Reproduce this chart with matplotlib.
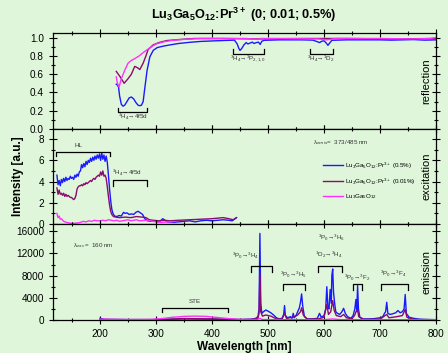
import numpy as np
import matplotlib.pyplot as plt
from matplotlib.ticker import MultipleLocator

plt.rcParams['font.family'] = ['Liberation Sans', 'DejaVu Sans']
plt.rcParams['mathtext.fontset'] = 'custom'
plt.rcParams['mathtext.rm'] = 'Liberation Sans'
plt.rcParams['mathtext.bf'] = 'Liberation Sans:bold'

BG = '#e0f6db'
C_BLUE = '#1a1aff'
C_PURP = '#8a0a6e'
C_MAG = '#ff30ff'

# --- reflection (wavelength nm, reflectance)
refl_blue_wl = [229, 231, 233, 235, 238, 241, 244, 248, 252, 256, 260, 264, 268, 271, 274, 277, 280, 284, 289,
                295, 302, 312, 325, 340, 360, 380, 400, 420, 440, 445, 448, 450, 453, 457, 461, 464, 468, 472,
                475, 479, 483, 486, 489, 493, 520, 560, 580, 588, 592, 596, 600, 604, 607, 610, 614, 640, 700,
                720, 740, 760, 780, 800]
refl_blue = [0.49, 0.48, 0.46, 0.36, 0.27, 0.25, 0.26, 0.30, 0.34, 0.35, 0.33, 0.29, 0.26, 0.255, 0.26, 0.30,
             0.45, 0.64, 0.79, 0.86, 0.89, 0.905, 0.92, 0.935, 0.948, 0.958, 0.963, 0.968, 0.972, 0.93, 0.88,
             0.86, 0.88, 0.92, 0.945, 0.93, 0.94, 0.95, 0.935, 0.945, 0.95, 0.925, 0.96, 0.97, 0.975, 0.975,
             0.972, 0.955, 0.945, 0.96, 0.965, 0.94, 0.915, 0.94, 0.97, 0.975, 0.975, 0.972, 0.975, 0.978,
             0.972, 0.975]
refl_purp_wl = [229, 236, 243, 250, 256, 262, 267, 271, 277, 282, 286, 295, 305, 319, 340, 368, 420, 480, 560,
                640, 720, 800]
refl_purp = [0.63, 0.57, 0.50, 0.55, 0.60, 0.685, 0.67, 0.65, 0.72, 0.80, 0.87, 0.92, 0.945, 0.967, 0.978,
             0.99, 0.99, 0.985, 0.99, 0.99, 0.985, 0.99]
refl_mag_wl = [229, 231, 234, 238, 244, 250, 256, 262, 270, 278, 285, 292, 300, 315, 330, 350, 380, 420, 460,
               482, 486, 520, 590, 605, 620, 700, 760, 790, 800]
refl_mag = [0.57, 0.50, 0.46, 0.55, 0.64, 0.72, 0.75, 0.77, 0.80, 0.84, 0.87, 0.90, 0.93, 0.955, 0.97, 0.98,
            0.99, 0.99, 0.99, 0.98, 0.99, 0.99, 0.985, 0.975, 0.99, 0.99, 0.985, 0.99, 1.0]

# --- excitation (lambda_em = 373/485 nm)
exc_blue_wl = [123, 125, 127, 129, 131, 133, 135, 137, 139, 141, 143, 145, 147, 149, 151, 153, 155, 157, 159,
               161, 163, 165, 167, 169, 171, 173, 175, 177, 179, 181, 183, 185, 187, 189, 191, 193, 195, 197,
               199, 201, 203, 205, 207, 209, 211, 213, 215, 217, 219, 221, 223, 226, 230, 234, 238, 242, 245,
               248, 252, 256, 260, 264, 268, 272, 276, 280, 285, 290, 296, 302, 308, 312, 316, 320, 330, 340,
               350, 360, 370, 380, 390, 400, 410, 420, 430, 436, 440, 444]
exc_blue = [4.6, 3.7, 4.1, 3.6, 4.2, 3.9, 4.3, 4.0, 4.4, 4.1, 4.3, 4.2, 4.5, 4.3, 4.4, 4.2, 4.6, 4.4, 4.7, 4.5,
            4.9, 5.0, 5.6, 5.3, 5.7, 5.4, 5.9, 5.6, 6.0, 5.8, 6.2, 5.9, 6.3, 6.0, 6.4, 6.1, 6.5, 6.2, 6.6, 6.0,
            6.7, 6.1, 6.5, 5.9, 6.4, 5.8, 4.6, 3.3, 2.2, 1.4, 1.0, 0.75, 0.7, 0.8, 0.75, 1.1, 1.0, 1.05, 0.9,
            0.95, 0.9, 1.1, 1.2, 1.05, 0.9, 0.5, 0.3, 0.25, 0.3, 0.2, 0.3, 0.5, 0.35, 0.2, 0.15, 0.2, 0.25,
            0.3, 0.2, 0.3, 0.35, 0.3, 0.35, 0.4, 0.35, 0.3, 0.45, 0.6]
exc_purp_wl = [123, 125, 127, 129, 131, 133, 135, 137, 139, 141, 143, 145, 147, 149, 151, 153, 155, 157, 159,
               161, 163, 165, 167, 169, 171, 173, 175, 177, 179, 181, 183, 185, 187, 189, 191, 193, 195, 197,
               199, 201, 203, 205, 207, 209, 211, 213, 215, 217, 219, 221, 224, 228, 235, 245, 255, 265, 275,
               282, 288, 295, 305, 315, 325, 340, 360, 380, 400, 410, 420, 430, 438, 442]
exc_purp = [3.4, 2.8, 3.2, 2.8, 2.9, 2.7, 2.9, 2.6, 2.8, 2.6, 2.7, 2.6, 2.5, 2.5, 2.4, 2.3, 2.4, 2.7, 3.3, 3.5,
            3.6, 3.6, 3.7, 3.6, 3.8, 3.7, 3.9, 3.8, 3.9, 4.0, 4.1, 4.0, 4.2, 4.3, 4.2, 4.4, 4.5, 4.6, 4.5, 4.9,
            4.6, 5.0, 4.5, 4.6, 4.3, 3.5, 2.6, 1.8, 1.2, 0.9, 0.7, 0.65, 0.6, 0.65, 0.6, 0.7, 0.65, 0.6, 0.4,
            0.35, 0.3, 0.35, 0.3, 0.35, 0.4, 0.45, 0.5, 0.55, 0.6, 0.5, 0.4, 0.55]
exc_mag_wl = [123, 125, 127, 129, 131, 134, 137, 140, 145, 150, 155, 160, 165, 170, 175, 180, 185, 190, 195,
              200, 205, 210, 215, 220, 225, 230, 235, 240, 250, 255, 260, 265, 270, 280, 290, 300, 310, 320, 330]
exc_mag = [1.0, 0.6, 0.75, 0.45, 0.5, 0.3, 0.2, 0.15, 0.1, 0.05, 0.08, 0.1, 0.15, 0.25, 0.2, 0.3, 0.25, 0.35,
           0.3, 0.3, 0.35, 0.3, 0.4, 0.35, 0.3, 0.35, 0.25, 0.3, 0.4, 0.3, 0.35, 0.4, 0.3, 0.35, 0.3, 0.2, 0.15,
           0.2, 0.2]

# --- emission (lambda_exc = 160 nm)
em_blue_wl = [200, 205, 210, 250, 300, 350, 400, 450, 470, 478, 482, 484, 485.5, 487, 489, 492, 496, 500, 505,
              510, 515, 520, 525, 528, 529.5, 531, 535, 540, 543, 545, 547, 550, 553, 556, 558, 560, 562, 565,
              570, 580, 588, 592, 595, 600, 603, 605, 607, 609, 611, 613, 614, 615.5, 617, 619, 621, 624, 628,
              632, 635, 638, 642, 648, 652, 655, 657, 658.5, 660, 661.5, 664, 670, 680, 690, 700, 705, 708, 710,
              712, 714, 718, 722, 728, 732, 736, 740, 743, 745, 747, 752, 760, 770, 780, 800]
em_blue = [300, 150, 100, 80, 60, 200, 150, 80, 150, 300, 600, 2000, 15600, 3000, 1200, 1500, 1800, 1600, 1300,
           900, 400, 200, 300, 1000, 2600, 800, 400, 600, 300, 1200, 400, 800, 1500, 2200, 3200, 4700, 2500, 600,
           200, 200, 300, 1200, 500, 800, 2000, 6000, 2200, 2000, 5500, 3000, 8000, 9200, 5000, 3000, 1500,
           1200, 1000, 1500, 2100, 1200, 600, 300, 800, 2000, 3700, 1500, 6200, 2000, 500, 200, 200, 250, 400,
           600, 1200, 1500, 3200, 1200, 1000, 1100, 1300, 1700, 1300, 1500, 2000, 4600, 1200, 500, 300, 150,
           100, 60]
em_purp_wl = [200, 250, 300, 350, 400, 450, 470, 482, 484, 485.5, 487, 490, 496, 505, 515, 525, 529.5, 533,
              545, 553, 558, 560, 563, 570, 590, 600, 605, 608, 612, 615.5, 618, 622, 630, 635, 640, 650, 655,
              657, 660, 662, 670, 700, 712, 716, 730, 740, 745, 748, 760, 800]
em_purp = [100, 60, 80, 250, 200, 80, 100, 300, 1200, 8300, 1500, 700, 900, 700, 200, 150, 1200, 300, 500, 900,
           1500, 2200, 900, 150, 200, 500, 2800, 1000, 1500, 3500, 1800, 800, 600, 1000, 400, 200, 900, 1500,
           1800, 600, 100, 150, 1000, 400, 600, 800, 1900, 500, 100, 50]
em_mag_wl = [200, 250, 290, 310, 330, 350, 370, 390, 410, 430, 450, 480, 485.5, 490, 520, 600, 615, 630, 700,
             800]
em_mag = [150, 80, 100, 250, 500, 650, 700, 650, 450, 250, 100, 80, 300, 80, 60, 60, 200, 60, 60, 50]

fig = plt.figure(figsize=(4.48, 3.53), dpi=100, facecolor=BG)
left, width = 53 / 448, 383 / 448
ax_r = fig.add_axes([left, 1 - 129 / 353, width, 96 / 353], facecolor=BG)
ax_e = fig.add_axes([left, 1 - 224 / 353, width, 95 / 353], facecolor=BG, sharex=ax_r)
ax_m = fig.add_axes([left, 1 - 320 / 353, width, 96 / 353], facecolor=BG, sharex=ax_r)

lw = 1.0
ax_r.plot(refl_blue_wl, refl_blue, color=C_BLUE, lw=lw)
ax_r.plot(refl_purp_wl, refl_purp, color=C_PURP, lw=lw)
ax_r.plot(refl_mag_wl, refl_mag, color=C_MAG, lw=lw)

ax_e.plot(exc_blue_wl, exc_blue, color=C_BLUE, lw=lw, label=r'Lu$_3$Ga$_5$O$_{12}$:Pr$^{3+}$ (0.5%)')
ax_e.plot(exc_purp_wl, exc_purp, color=C_PURP, lw=lw, label=r'Lu$_3$Ga$_5$O$_{12}$:Pr$^{3+}$ (0.01%)')
ax_e.plot(exc_mag_wl, exc_mag, color=C_MAG, lw=lw, label=r'Lu$_3$Ga$_5$O$_{12}$')

ax_m.plot(em_blue_wl, em_blue, color=C_BLUE, lw=lw)
ax_m.plot(em_purp_wl, em_purp, color=C_PURP, lw=lw)
ax_m.plot(em_mag_wl, em_mag, color=C_MAG, lw=lw)

ax_r.set_ylim(0, 1.05)
ax_e.set_ylim(0, 8.95)
ax_m.set_ylim(0, 17300)
ax_m.set_xlim(116, 800)

ax_r.yaxis.set_major_locator(MultipleLocator(0.2))
ax_r.yaxis.set_minor_locator(MultipleLocator(0.1))
ax_r.yaxis.set_major_formatter(plt.FormatStrFormatter('%.1f'))
ax_e.yaxis.set_major_locator(MultipleLocator(2))
ax_e.yaxis.set_minor_locator(MultipleLocator(1))
ax_m.yaxis.set_major_locator(MultipleLocator(4000))
ax_m.yaxis.set_minor_locator(MultipleLocator(2000))
ax_m.xaxis.set_major_locator(MultipleLocator(100))
ax_m.xaxis.set_minor_locator(MultipleLocator(50))

for ax in (ax_r, ax_e, ax_m):
    ax.tick_params(which='both', direction='inout', top=True, right=True, labelsize=7.2, width=0.8)
    ax.tick_params(which='major', length=6)
    ax.tick_params(which='minor', length=3)
    for s in ax.spines.values():
        s.set_linewidth(0.9)
ax_r.tick_params(labelbottom=False)
ax_e.tick_params(labelbottom=False)

for ax, name in ((ax_r, 'reflection'), (ax_e, 'excitation'), (ax_m, 'emission')):
    ax.text(0.988, 0.5, name, rotation=90, transform=ax.transAxes, ha='right', va='center', fontsize=8)

ann = dict(fontsize=4.5, color='#333333')
blw = 0.9


def bracket(ax, x0, x1, y, y_end):
    ax.plot([x0, x0, x1, x1], [y_end, y, y, y_end], color='black', lw=blw)


# reflection annotations
bracket(ax_r, 232, 284, 0.19, 0.235)
ax_r.text(258, 0.135, r'$^3$H$_4$→4f5d', ha='center', va='center', **ann)
bracket(ax_r, 437, 493, 0.825, 0.87)
ax_r.text(465, 0.765, r'$^3$H$_4$→$^3$P$_{2,1,0}$', ha='center', va='center', **ann)
bracket(ax_r, 575, 616, 0.825, 0.87)
ax_r.text(595, 0.765, r'$^3$H$_4$→$^1$D$_2$', ha='center', va='center', **ann)

# excitation annotations
bracket(ax_e, 121, 218, 6.78, 6.45)
ax_e.text(161, 7.4, 'HL', ha='center', va='center', **ann)
bracket(ax_e, 223, 284, 4.15, 3.6)
ax_e.text(221, 4.8, r'$^3$H$_4$→4f5d', ha='left', va='center', **ann)
ax_e.text(580, 7.7, r'λ$_{emis}$=  373/485 nm', ha='left', va='center', **ann)
ax_e.legend(loc='upper left', bbox_to_anchor=(0.705, 0.67), frameon=False, fontsize=4.5,
            handlelength=3.2, handletextpad=0.3, labelspacing=0.9, borderaxespad=0, borderpad=0)

# emission annotations
ax_m.text(152, 13500, r'λ$_{exc}$=  160 nm', ha='left', va='center', **ann)
bracket(ax_m, 311, 429, 2170, 1420)
ax_m.text(370, 3250, 'STE', ha='center', va='center', **ann)
bracket(ax_m, 470, 507, 9750, 8650)
ax_m.text(436, 11600, r'$^3$P$_0$→$^3$H$_4$', ha='left', va='center', **ann)
bracket(ax_m, 527, 566, 6500, 5400)
ax_m.text(521, 8150, r'$^3$P$_0$→$^3$H$_5$', ha='left', va='center', **ann)
bracket(ax_m, 589, 632, 9750, 8650)
ax_m.text(589, 14850, r'$^3$P$_0$→$^3$H$_6$', ha='left', va='center', **ann)
ax_m.text(584, 11750, r'$^1$D$_2$→$^3$H$_4$', ha='left', va='center', **ann)
bracket(ax_m, 652, 668, 6500, 5400)
ax_m.text(636, 7650, r'$^3$P$_0$→$^3$F$_2$', ha='left', va='center', **ann)
bracket(ax_m, 702, 750, 6500, 5400)
ax_m.text(700, 8350, r'$^3$P$_0$→$^3$F$_4$', ha='left', va='center', **ann)

fig.text(0.545, 0.957, r'Lu$_\mathbf{3}$Ga$_\mathbf{5}$O$_\mathbf{12}$:Pr$^\mathbf{3+}$ (0; 0.01; 0.5%)',
         ha='center', va='center', fontsize=9.2, fontweight='bold')
fig.text(0.04, 0.5, 'Intensity [a.u.]', rotation=90, ha='center', va='center', fontsize=8.5,
         fontweight='bold')
fig.text(0.546, 0.018, 'Wavelength [nm]', ha='center', va='center', fontsize=8.5, fontweight='bold')

plt.savefig('out.png', dpi=100, facecolor=BG)
